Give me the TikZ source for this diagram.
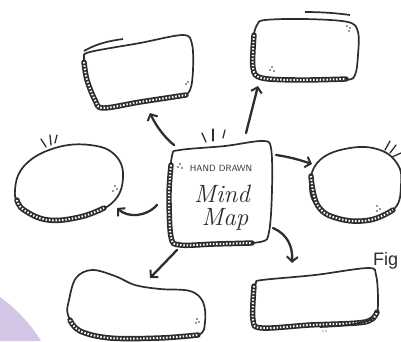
\documentclass[tikz,border=0pt]{standalone}
\usepackage{fontspec}
\usetikzlibrary{arrows.meta}
\newfontfamily\figfuente{Liberation Sans}
\definecolor{tinta}{RGB}{45,45,45}
\definecolor{lila}{RGB}{212,197,228}

\begin{document}
\begin{tikzpicture}[x=1pt, y=-1pt,
  contorno/.style={draw=tinta, line width=1.7pt, line join=round},
  banda/.style={draw=tinta, line width=5.4pt, line cap=round,
    postaction={draw=white, line width=2pt, line cap=butt,
      dash pattern=on 1.5pt off 1.8pt}},
  flecha/.style={draw=tinta, line width=2.3pt, line cap=round,
    -{Straight Barb[length=5pt, width=11pt, line width=2pt]}},
  destello/.style={draw=tinta, line width=1.3pt, line cap=round}
]
\useasboundingbox (0,0) rectangle (401,341);
\clip (0,0) rectangle (401,341);

% fondo lila
\fill[lila] (0,297) .. controls (18,310) and (32,326) .. (41,341) -- (0,341) -- cycle;

% centro
\draw[contorno] plot[smooth cycle, tension=.55] coordinates {(180,150) (225,146)
  (262,141) (271,148) (272,190) (269,232) (260,242) (215,244) (180,245)
  (171,237) (169,195) (172,156)};
\draw[banda] plot[smooth, tension=.55] coordinates {(171,165) (169,195)
  (171,237) (180,245) (215,244) (252,243)};
\node[text=tinta, font=\sffamily\fontsize{9}{10}\selectfont] (titulo) at (221,168) {HAND DRAWN};
\node[text=tinta, font=\itshape\fontsize{25}{25}\selectfont] (mind) at (222,194) {Mind};
\node[text=tinta, font=\itshape\fontsize{25}{25}\selectfont] (map) at (225,219) {Map};
\foreach \p in {(180,164),(178,167),(182,168)} \fill[tinta] \p circle[radius=.9];
\draw[destello] (202,133) -- (206,142);
\draw[destello] (213,129) -- (213,141);
\draw[destello] (225,130) -- (223,138);

% caja arriba izquierda
\draw[contorno] plot[smooth cycle, tension=.55] coordinates {(90,52) (140,43)
  (183,35) (192,44) (193,70) (190,90) (180,96) (140,102) (103,108) (95,100)
  (86,75) (84,58)};
\draw[banda] plot[smooth, tension=.55] coordinates {(84,62) (87,80) (95,100)
  (103,108) (140,102) (186,95)};
\draw[contorno] (84,51) .. controls (96,44) and (108,41) .. (123,39);
\foreach \p in {(188,82),(186,84)} \fill[tinta] \p circle[radius=.8];

% caja arriba derecha
\draw[contorno] plot[smooth cycle, tension=.55] coordinates {(265,20) (305,19)
  (348,22) (358,32) (358,55) (355,75) (345,80) (300,80) (262,78) (253,68)
  (253,40) (257,25)};
\draw[banda] plot[smooth, tension=.55] coordinates {(254,35) (253,68) (262,78)
  (300,80) (346,79)};
\draw[contorno] (305,12) .. controls (320,12) and (336,13) .. (350,15);
\foreach \p in {(347,26),(350,28),(349,31),(270,70),(272,67),(274,71)}
  \fill[tinta] \p circle[radius=.8];

% elipse izquierda
\draw[contorno] plot[smooth cycle, tension=.7] coordinates {(90,145) (115,155)
  (123,178) (112,203) (80,217) (48,220) (22,208) (15,190) (25,165) (55,148)};
\draw[banda] plot[smooth, tension=.7] coordinates {(17,200) (24,210) (48,220)
  (80,217) (104,208)};
\foreach \p in {(115,186),(117,189),(113,191)} \fill[tinta] \p circle[radius=.8];
\draw[destello] (41,139) -- (46,147);
\draw[destello] (50,135) -- (51,145);
\draw[destello] (57,135) -- (55,143);

% elipse derecha
\draw[contorno] plot[smooth cycle, tension=.7] coordinates {(350,148) (380,150)
  (398,165) (401,185) (395,208) (370,220) (340,220) (318,208) (310,185)
  (320,160)};
\draw[banda] plot[smooth, tension=.7] coordinates {(311,176) (318,206) (340,219)
  (370,220) (393,210)};
\foreach \p in {(377,206),(380,209),(377,211)} \fill[tinta] \p circle[radius=.8];
\draw[destello] (385,150) -- (390,141);
\draw[destello] (390,153) -- (396,145);
\draw[destello] (392,157) -- (401,153);

% caja abajo derecha
\draw[contorno] plot[smooth cycle, tension=.55] coordinates {(262,280) (315,275)
  (368,268) (376,275) (378,300) (376,317) (365,322) (310,325) (262,328)
  (253,320) (253,295) (256,283)};
\draw[banda] plot[smooth, tension=.55] coordinates {(254,286) (253,320) (262,328)
  (310,325) (365,322) (377,312)};
\draw[contorno] (320,327) .. controls (345,326) and (362,324) .. (374,318);
\foreach \p in {(323,331),(326,331)} \fill[tinta] \p circle[radius=.7];

% nube abajo izquierda
\draw[contorno] plot[smooth cycle, tension=.6] coordinates {(69,300) (76,278)
  (92,270) (115,276) (135,285) (160,289) (190,291) (203,302) (205,322)
  (198,335) (160,338) (110,338) (80,331) (68,315)};
\draw[banda] plot[smooth, tension=.6] coordinates {(70,320) (80,331) (110,338)
  (160,338) (198,335)};
\foreach \p in {(197,319),(199,322),(196,323)} \fill[tinta] \p circle[radius=.8];

% texto del borde
\node[anchor=base west, inner sep=0pt, text=tinta,
  font=\figfuente\fontsize{18}{18}\selectfont] (fig) at (373,265) {Fig};

% puntos de las flechas
\coordinate (a1) at (174,145);  \coordinate (b1) at (150,113);
\coordinate (a2) at (246,133);  \coordinate (b2) at (258,86);
\coordinate (a3) at (276,155);  \coordinate (b3) at (312,164);
\coordinate (a4) at (157,205);  \coordinate (b4) at (117,208);
\coordinate (a5) at (177,250);  \coordinate (b5) at (150,278);
\coordinate (a6) at (273,228);  \coordinate (b6) at (292,263);

\draw[flecha] (a1) .. controls (165,138) and (156,126) .. (b1);
\draw[flecha] (a2) -- (b2);
\draw[flecha] (a3) .. controls (290,157) and (300,160) .. (b3);
\draw[flecha] (a4) .. controls (146,217) and (128,218) .. (b4);
\draw[flecha] (a5) -- (b5);
\draw[flecha] (a6) .. controls (287,234) and (293,246) .. (b6);
\end{tikzpicture}
\end{document}
